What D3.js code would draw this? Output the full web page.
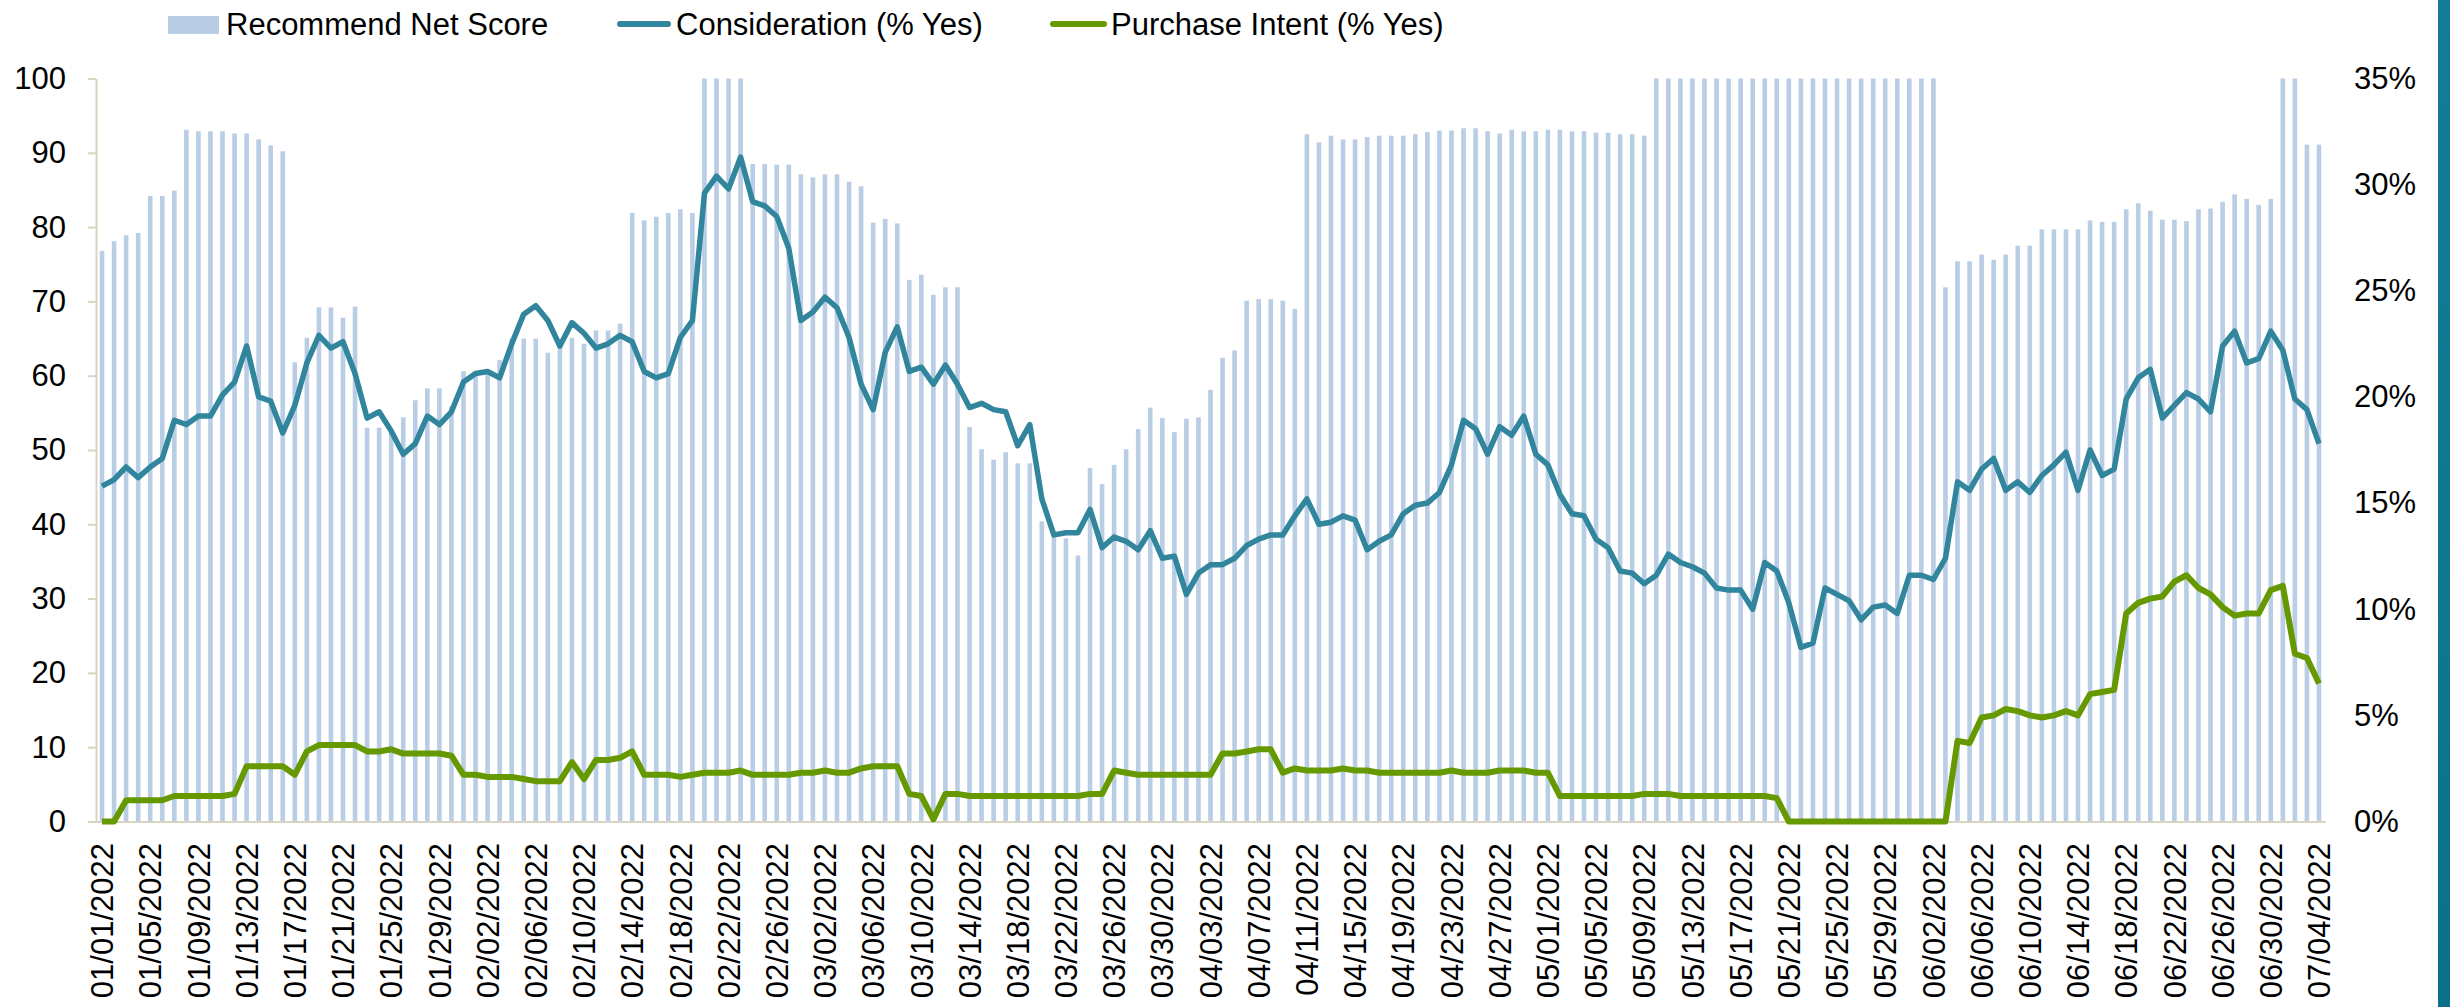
<!DOCTYPE html>
<html>
<head>
<meta charset="utf-8">
<script src="https://cdn.jsdelivr.net/npm/d3@7"></script>
<style>
  body { margin: 0; background: #fff; }
  svg { display: block; font-family: "Liberation Sans", Arial, sans-serif; }
</style>
</head>
<body>
<div id="chart"></div>
<script>
// daily categories 01/01/2022 .. 07/04/2022
const dates = d3.timeDay.range(new Date(2022, 0, 1), new Date(2022, 6, 5))
    .map(d3.timeFormat("%m/%d/%Y"));

const tickLabels = ["01/01/2022","01/05/2022","01/09/2022","01/13/2022","01/17/2022","01/21/2022","01/25/2022","01/29/2022",
    "02/02/2022","02/06/2022","02/10/2022","02/14/2022","02/18/2022","02/22/2022","02/26/2022","03/02/2022","03/06/2022",
    "03/10/2022","03/14/2022","03/18/2022","03/22/2022","03/26/2022","03/30/2022","04/03/2022","04/07/2022","04/11/2022",
    "04/15/2022","04/19/2022","04/23/2022","04/27/2022","05/01/2022","05/05/2022","05/09/2022","05/13/2022","05/17/2022",
    "05/21/2022","05/25/2022","05/29/2022","06/02/2022","06/06/2022","06/10/2022","06/14/2022","06/18/2022","06/22/2022",
    "06/26/2022","06/30/2022","07/04/2022"];

const leftTicks = [0, 10, 20, 30, 40, 50, 60, 70, 80, 90, 100];
const rightTicks = [0, 5, 10, 15, 20, 25, 30, 35];

// Recommend Net Score (left axis)
const netScore = [
    76.8, 78.1, 78.9, 79.2, 84.2, 84.2, 84.9, 93.1, 92.9, 92.9, 92.9, 92.6, 92.6, 91.8, 91.0, 90.2,
    61.8, 65.1, 69.2, 69.2, 67.8, 69.3, 53.0, 53.0, 52.5, 54.4, 56.7, 58.3, 58.3, 55.9, 60.6, 60.5,
    60.8, 62.1, 65.0, 65.0, 65.0, 63.1, 64.0, 65.1, 64.3, 66.1, 66.1, 67.0, 81.9, 80.9, 81.4, 81.9,
    82.4, 81.9, 100, 100, 100, 100, 88.5, 88.5, 88.4, 88.4, 87.1, 86.7, 87.1, 87.1, 86.1, 85.5,
    80.6, 81.1, 80.5, 72.9, 73.6, 70.9, 71.9, 71.9, 53.1, 50.1, 48.7, 49.7, 48.2, 48.2, 40.4, 38.6,
    38.1, 35.8, 47.6, 45.4, 48.0, 50.1, 52.8, 55.7, 54.3, 52.4, 54.2, 54.4, 58.1, 62.4, 63.4, 70.1,
    70.3, 70.3, 70.1, 69.0, 92.5, 91.4, 92.3, 91.8, 91.8, 92.1, 92.3, 92.3, 92.3, 92.5, 92.8, 93.0,
    93.0, 93.3, 93.3, 92.9, 92.6, 93.1, 92.9, 92.9, 93.1, 93.1, 92.9, 92.9, 92.7, 92.7, 92.5, 92.5,
    92.3, 100, 100, 100, 100, 100, 100, 100, 100, 100, 100, 100, 100, 100, 100, 100,
    100, 100, 100, 100, 100, 100, 100, 100, 100, 71.9, 75.4, 75.4, 76.3, 75.6, 76.3, 77.5,
    77.5, 79.7, 79.7, 79.7, 79.7, 80.9, 80.7, 80.7, 82.4, 83.2, 82.2, 81.0, 81.0, 80.8, 82.4, 82.5,
    83.4, 84.4, 83.8, 83.0, 83.8, 100, 100, 91.1, 91.1
];

// Consideration (% Yes, right axis)
const consideration = [
    15.8, 16.1, 16.7, 16.2, 16.7, 17.1, 18.9, 18.7, 19.1, 19.1, 20.1, 20.7, 22.4, 20.0, 19.8, 18.3,
    19.6, 21.6, 22.9, 22.3, 22.6, 21.1, 19.0, 19.3, 18.4, 17.3, 17.8, 19.1, 18.7, 19.3, 20.7, 21.1,
    21.2, 20.9, 22.5, 23.9, 24.3, 23.6, 22.4, 23.5, 23.0, 22.3, 22.5, 22.9, 22.6, 21.2, 20.9, 21.1,
    22.8, 23.6, 29.6, 30.4, 29.8, 31.3, 29.2, 29.0, 28.5, 27.0, 23.6, 24.0, 24.7, 24.2, 22.8, 20.6,
    19.4, 22.1, 23.3, 21.2, 21.4, 20.6, 21.5, 20.6, 19.5, 19.7, 19.4, 19.3, 17.7, 18.7, 15.2, 13.5,
    13.6, 13.6, 14.7, 12.9, 13.4, 13.2, 12.8, 13.7, 12.4, 12.5, 10.7, 11.7, 12.1, 12.1, 12.4, 13.0,
    13.3, 13.5, 13.5, 14.4, 15.2, 14.0, 14.1, 14.4, 14.2, 12.8, 13.2, 13.5, 14.5, 14.9, 15.0, 15.5,
    16.8, 18.9, 18.5, 17.3, 18.6, 18.2, 19.1, 17.3, 16.8, 15.4, 14.5, 14.4, 13.3, 12.9, 11.8, 11.7,
    11.2, 11.6, 12.6, 12.2, 12.0, 11.7, 11.0, 10.9, 10.9, 10.0, 12.2, 11.8, 10.3, 8.2, 8.4, 11.0,
    10.7, 10.4, 9.5, 10.1, 10.2, 9.8, 11.6, 11.6, 11.4, 12.4, 16.0, 15.6, 16.6, 17.1, 15.6, 16.0,
    15.5, 16.3, 16.8, 17.4, 15.6, 17.5, 16.3, 16.6, 19.9, 20.9, 21.3, 19.0, 19.6, 20.2, 19.9, 19.3,
    22.4, 23.1, 21.6, 21.8, 23.1, 22.2, 19.9, 19.4, 17.8
];

// Purchase Intent (% Yes, right axis)
const purchaseIntent = [
    0.0, 0.0, 1.0, 1.0, 1.0, 1.0, 1.2, 1.2, 1.2, 1.2, 1.2, 1.3, 2.6, 2.6, 2.6, 2.6,
    2.2, 3.3, 3.6, 3.6, 3.6, 3.6, 3.3, 3.3, 3.4, 3.2, 3.2, 3.2, 3.2, 3.1, 2.2, 2.2,
    2.1, 2.1, 2.1, 2.0, 1.9, 1.9, 1.9, 2.8, 2.0, 2.9, 2.9, 3.0, 3.3, 2.2, 2.2, 2.2,
    2.1, 2.2, 2.3, 2.3, 2.3, 2.4, 2.2, 2.2, 2.2, 2.2, 2.3, 2.3, 2.4, 2.3, 2.3, 2.5,
    2.6, 2.6, 2.6, 1.3, 1.2, 0.1, 1.3, 1.3, 1.2, 1.2, 1.2, 1.2, 1.2, 1.2, 1.2, 1.2,
    1.2, 1.2, 1.3, 1.3, 2.4, 2.3, 2.2, 2.2, 2.2, 2.2, 2.2, 2.2, 2.2, 3.2, 3.2, 3.3,
    3.4, 3.4, 2.3, 2.5, 2.4, 2.4, 2.4, 2.5, 2.4, 2.4, 2.3, 2.3, 2.3, 2.3, 2.3, 2.3,
    2.4, 2.3, 2.3, 2.3, 2.4, 2.4, 2.4, 2.3, 2.3, 1.2, 1.2, 1.2, 1.2, 1.2, 1.2, 1.2,
    1.3, 1.3, 1.3, 1.2, 1.2, 1.2, 1.2, 1.2, 1.2, 1.2, 1.2, 1.1, 0.0, 0.0, 0.0, 0.0,
    0.0, 0.0, 0.0, 0.0, 0.0, 0.0, 0.0, 0.0, 0.0, 0.0, 3.8, 3.7, 4.9, 5.0, 5.3, 5.2,
    5.0, 4.9, 5.0, 5.2, 5.0, 6.0, 6.1, 6.2, 9.8, 10.3, 10.5, 10.6, 11.3, 11.6, 11.0, 10.7,
    10.1, 9.7, 9.8, 9.8, 10.9, 11.1, 7.9, 7.7, 6.5
];

const W = 2450, H = 1007;
const plotLeft = 96, plotRight = 2325, plotTop = 78.5, plotBottom = 821.5;
const axisColor = "#d9d4c1";
const fontSize = "31px";

const svg = d3.select("#chart").append("svg")
    .attr("width", W)
    .attr("height", H);

// decorative strip on the right edge
const grad = svg.append("defs").append("linearGradient")
    .attr("id", "strip").attr("x1", 0).attr("y1", 0).attr("x2", 0).attr("y2", 1);
grad.append("stop").attr("offset", "0%").attr("stop-color", "#137d97");
grad.append("stop").attr("offset", "50%").attr("stop-color", "#0f7891");
grad.append("stop").attr("offset", "100%").attr("stop-color", "#0b7089");
svg.append("rect")
    .attr("x", 2438).attr("y", 0)
    .attr("width", 12).attr("height", H)
    .attr("fill", "url(#strip)");

// scales
const x = d3.scaleBand()
    .domain(dates)
    .range([plotLeft, plotRight])
    .padding(0);

const yLeft = d3.scaleLinear().domain([0, 100]).range([plotBottom, plotTop]);
const yRight = d3.scaleLinear().domain([0, 35]).range([plotBottom, plotTop]);

const cx = i => x(dates[i]) + x.bandwidth() / 2;
const barW = 4.6;

// bars
svg.append("g")
    .selectAll("rect")
    .data(netScore)
    .enter().append("rect")
    .attr("x", (d, i) => cx(i) - barW / 2)
    .attr("y", d => yLeft(d))
    .attr("width", barW)
    .attr("height", d => yLeft(0) - yLeft(d))
    .attr("fill", "#b9cde5");

// x axis
const xAxis = svg.append("g")
    .attr("transform", `translate(0,${plotBottom})`)
    .call(d3.axisBottom(x).tickValues(tickLabels).tickSize(0).tickSizeOuter(0));
xAxis.select(".domain").attr("stroke", axisColor).attr("stroke-width", 2);
xAxis.selectAll("text")
    .attr("font-size", fontSize)
    .attr("font-family", "Liberation Sans, Arial, sans-serif")
    .attr("fill", "#000")
    .attr("text-anchor", "end")
    .attr("transform", "rotate(-90)")
    .attr("x", -21.5)
    .attr("y", 0)
    .attr("dy", "0.36em");

// left axis
const yAxisL = svg.append("g")
    .attr("transform", `translate(${plotLeft},0)`)
    .call(d3.axisLeft(yLeft).tickValues(leftTicks).tickSize(8).tickSizeOuter(0).tickPadding(22));
yAxisL.select(".domain").attr("stroke", axisColor).attr("stroke-width", 2);
yAxisL.selectAll(".tick line").attr("stroke", axisColor).attr("stroke-width", 2);
yAxisL.selectAll("text")
    .attr("font-size", fontSize)
    .attr("font-family", "Liberation Sans, Arial, sans-serif")
    .attr("fill", "#000");

// right axis
const yAxisR = svg.append("g")
    .attr("transform", `translate(${plotRight},0)`)
    .call(d3.axisRight(yRight).tickValues(rightTicks).tickSize(0).tickPadding(29).tickFormat(d => d + "%"));
yAxisR.select(".domain").remove();
yAxisR.selectAll("text")
    .attr("font-size", fontSize)
    .attr("font-family", "Liberation Sans, Arial, sans-serif")
    .attr("fill", "#000");

// lines
const line = d3.line()
    .x((d, i) => cx(i))
    .y(d => yRight(d));

svg.append("path")
    .datum(consideration)
    .attr("d", line)
    .attr("fill", "none")
    .attr("stroke", "#31859c")
    .attr("stroke-width", 5.5)
    .attr("stroke-linejoin", "round");

svg.append("path")
    .datum(purchaseIntent)
    .attr("d", line)
    .attr("fill", "none")
    .attr("stroke", "#669900")
    .attr("stroke-width", 6)
    .attr("stroke-linejoin", "round");

// legend
const legend = svg.append("g");
legend.append("rect")
    .attr("x", 168).attr("y", 16)
    .attr("width", 51).attr("height", 18)
    .attr("fill", "#b9cde5");
legend.append("text")
    .attr("x", 226).attr("y", 24).attr("dy", "0.36em")
    .attr("font-size", fontSize)
    .text("Recommend Net Score");

legend.append("line")
    .attr("x1", 620).attr("x2", 668)
    .attr("y1", 24).attr("y2", 24)
    .attr("stroke", "#31859c").attr("stroke-width", 6)
    .attr("stroke-linecap", "round");
legend.append("text")
    .attr("x", 676).attr("y", 24).attr("dy", "0.36em")
    .attr("font-size", fontSize)
    .text("Consideration (% Yes)");

legend.append("line")
    .attr("x1", 1053).attr("x2", 1104)
    .attr("y1", 24).attr("y2", 24)
    .attr("stroke", "#669900").attr("stroke-width", 6)
    .attr("stroke-linecap", "round");
legend.append("text")
    .attr("x", 1111).attr("y", 24).attr("dy", "0.36em")
    .attr("font-size", fontSize)
    .text("Purchase Intent (% Yes)");
</script>
</body>
</html>
